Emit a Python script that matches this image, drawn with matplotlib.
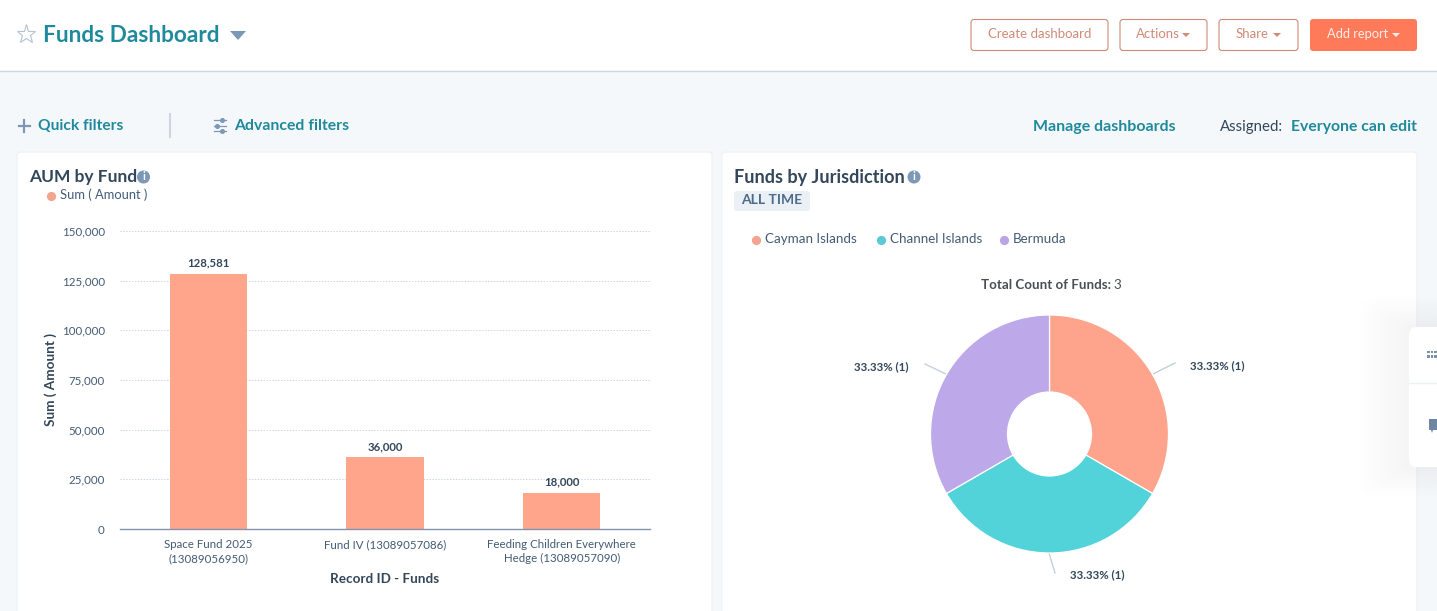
import matplotlib
matplotlib.use("Agg")
import matplotlib.pyplot as plt
from matplotlib.patches import FancyBboxPatch, Rectangle, Polygon, Circle
from matplotlib.ticker import FuncFormatter

plt.rcParams['font.family'] = ['Lato', 'DejaVu Sans']

funds = ["Space Fund 2025\n(13089056950)", "Fund IV (13089057086)",
         "Feeding Children Everywhere\nHedge (13089057090)"]
amounts = [128581, 36000, 18000]
amount_ticks = [0, 25000, 50000, 75000, 100000, 125000, 150000]
jurisdictions = ["Cayman Islands", "Channel Islands", "Bermuda"]
fund_counts = [1, 1, 1]
pie_labels = ["33.33% (1)", "33.33% (1)", "33.33% (1)"]

W, H = 1437, 611
TEAL = "#1f8a9c"
DARK = "#33475b"
CORAL = "#ffa58c"
PIE_COLORS = ["#ffa48c", "#51d3d9", "#bda9ea"]
LEG_COLORS = ["#f2a48e", "#5cc9d6", "#b9a5e3"]
GREY = "#7c98b6"

fig = plt.figure(figsize=(W / 100, H / 100), dpi=100, facecolor="#f5f8fa")
bg = fig.add_axes([0, 0, 1, 1])
bg.set_xlim(0, W)
bg.set_ylim(H, 0)
bg.axis("off")


def rrect(x0, y0, x1, y1, fc, ec="none", lw=1, r=3, z=1, alpha=None):
    p = FancyBboxPatch((x0 + r, y0 + r), x1 - x0 - 2 * r, y1 - y0 - 2 * r,
                       boxstyle=f"round,pad={r},rounding_size={r}",
                       fc=fc, ec=ec, lw=lw, zorder=z, alpha=alpha)
    bg.add_patch(p)


def txt(x, y, s, size=10, color=DARK, weight="normal", ha="left", z=5):
    bg.text(x, y + 1, s, fontsize=size, color=color, fontweight=weight, ha=ha, va="center", zorder=z)


# header
bg.add_patch(Rectangle((0, 0), W, 71, fc="white", ec="none", zorder=1))
bg.plot([0, W], [71, 71], color="#cbd6e2", lw=1, zorder=2)
bg.plot([26], [34], marker="*", ms=14, mfc="white", mec="#b5c3d2", mew=0.8, zorder=3)
txt(43, 34.5, "Funds Dashboard", 16.3, TEAL, "bold")
bg.add_patch(Polygon([(230, 31), (246, 31), (238, 40)], fc=GREY, ec="none", zorder=3))

# buttons
for x0, x1, label, cx in [(971, 1108, "Create dashboard", 1039.5),
                          (1120, 1207, "Actions", 1157.5),
                          (1219, 1298, "Share", 1252.5)]:
    rrect(x0, 19.5, x1, 50.5, "white", "#cf8a78", 0.8, z=3)
    txt(cx, 33.5, label, 9.5, "#d08a76", ha="center")
rrect(1310, 19, 1417, 51, "#ff7a59", z=3)
txt(1327, 33.5, "Add report", 9.3, "#ffeee9")
for cx, c in [(1186, "#d08a76"), (1277, "#d08a76"), (1396, "#ffeee9")]:
    bg.add_patch(Polygon([(cx - 4, 33), (cx + 4, 33), (cx, 37)], fc=c, ec="none", zorder=6))

# filter row
bg.plot([24, 24], [120, 132], color=GREY, lw=1.6, zorder=3)
bg.plot([18.5, 29.5], [126, 126], color=GREY, lw=1.6, zorder=3)
txt(38, 124.5, "Quick filters", 11.2, TEAL, "bold")
bg.plot([170, 170], [114, 137], color="#cbd6e2", lw=1.5, zorder=3)
for yy, mx in [(120, 222), (125.5, 217), (131, 222)]:
    bg.plot([214, 226], [yy, yy], color=GREY, lw=0.9, zorder=3)
    bg.plot([mx], [yy], marker="o", ms=2.6, color=GREY, zorder=4)
txt(234, 124.5, "Advanced filters", 11.3, TEAL, "bold")
txt(1176, 125.5, "Manage dashboards", 11.5, TEAL, "bold", ha="right")
txt(1220, 125.5, "Assigned:", 10.8, DARK)
txt(1417, 125.5, "Everyone can edit", 11.3, TEAL, "bold", ha="right")

# cards
rrect(17, 152, 712, 640, "white", "#edf1f5", 0.8, r=4, z=1)
rrect(722, 152, 1417, 640, "white", "#edf1f5", 0.8, r=4, z=1)

# card 1 heading
txt(29, 176, "AUM by Fund", 12.5, DARK, "bold")
bg.add_patch(Circle((143.5, 177), 6.5, fc=GREY, ec="none", zorder=5))
txt(143.5, 176, "i", 8, "white", "bold", ha="center", z=6)
bg.plot([51], [196], marker="o", ms=5.6, color=LEG_COLORS[0], zorder=5)
txt(60, 194, "Sum ( Amount )", 9.3, "#425b76")

# card 2 heading
txt(734, 176, "Funds by Jurisdiction", 13.1, DARK, "bold")
bg.add_patch(Circle((914, 177), 6.5, fc=GREY, ec="none", zorder=5))
txt(914, 176, "i", 8, "white", "bold", ha="center", z=6)
rrect(734, 191, 810, 211, "#eaf0f6", r=3, z=3)
txt(772, 199, "ALL TIME", 10, "#4f6b8a", "bold", ha="center")
for mx, tx, name, c in zip([756, 881, 1004], [765, 890, 1013], jurisdictions, LEG_COLORS):
    bg.plot([mx], [239.5], marker="o", ms=5.6, color=c, zorder=5)
    txt(tx, 238, name, 9.6, "#425b76")
txt(981, 284, "Total Count of Funds:", 9.6, "#4a4f55", "bold")
txt(1113, 284, str(sum(fund_counts)), 9.6, "#4a4f55")

# floating side panel
for d in range(50, 0, -5):
    rrect(1409 - d, 327 - d * 0.6, 1445, 467 + d * 0.6, "#7c98b6", r=min(d, 12) + 1, z=2, alpha=0.005)
rrect(1409, 327, 1450, 467, "white", r=8, z=7)
bg.plot([1409, W], [382.5, 382.5], color="#eaf0f6", lw=1, zorder=8)
for xx in [1428.5, 1432, 1435.5]:
    for yy in [352, 356.5]:
        bg.add_patch(Rectangle((xx - 1.3, yy - 1.3), 2.6, 2.6, fc="#7c90aa", ec="none", zorder=9))
bg.add_patch(Polygon([(1429, 419), (1437, 419), (1437, 430), (1433, 430), (1432, 433), (1431, 430), (1429, 430)],
                     fc="#6f86a3", ec="none", zorder=9))

# bar chart
ax = fig.add_axes([120 / W, 1 - 529 / H, 530 / W, (529 - 231) / H], facecolor="none")
ax.bar(range(len(funds)), amounts, width=0.436, color=CORAL, zorder=3)
ax.set_xlim(-0.5, len(funds) - 0.5)
ax.set_ylim(0, 150000)
ax.set_yticks(amount_ticks)
ax.yaxis.set_major_formatter(FuncFormatter(lambda v, _: f"{int(v):,}"))
ax.set_xticks(range(len(funds)))
ax.set_xticklabels(funds, fontsize=8.3, color="#425b76", linespacing=1.3)
ax.tick_params(axis="both", length=0)
ax.tick_params(axis="x", pad=7.5)
ax.tick_params(axis="y", labelsize=8.3, labelcolor="#425b76", pad=11)
ax.grid(axis="y", color="#cdd6e0", ls=(0, (1.5, 1.5)), lw=0.7, zorder=0)
for s in ["top", "right", "left"]:
    ax.spines[s].set_visible(False)
ax.spines["bottom"].set_color("#8195ac")
ax.spines["bottom"].set_linewidth(1)
ax.spines["bottom"].set_zorder(5)
for i, v in enumerate(amounts):
    ax.annotate(f"{v:,}", (i, v), xytext=(0, 4), textcoords="offset points", ha="center",
                va="bottom", fontsize=8.2, fontweight="bold", color=DARK)
ax.set_xlabel("Record ID - Funds", fontsize=9.7, fontweight="bold", color=DARK, labelpad=6)
ax.set_ylabel("Sum ( Amount )", fontsize=9.8, fontweight="bold", color=DARK, labelpad=3)

# donut
R = 119
cx, cy = 1049.5, 434
pax = fig.add_axes([(cx - R) / W, 1 - (cy + R) / H, 2 * R / W, 2 * R / H], facecolor="none")
pax.pie(fund_counts, colors=PIE_COLORS, startangle=90, counterclock=False, radius=1,
        wedgeprops=dict(width=77 / 119, edgecolor="white", linewidth=0.9))
pax.set_xlim(-1, 1)
pax.set_ylim(-1, 1)
pax.set_aspect("equal")

# pie callouts (label order follows the slices)
callouts = [((1153, 374), (1175, 363), (1190, 365), "left"),
            ((1049, 553), (1055, 573), (1070, 574), "left"),
            ((946, 374), (925, 364), (909, 366), "right")]
for (a, b, t, ha), lab in zip(callouts, pie_labels):
    bg.plot([a[0], b[0]], [a[1], b[1]], color="#c3d0dd", lw=1, zorder=4)
    txt(t[0], t[1], lab, 8.3, DARK, "bold", ha=ha)

fig.savefig("out.png", dpi=100, facecolor=fig.get_facecolor())
